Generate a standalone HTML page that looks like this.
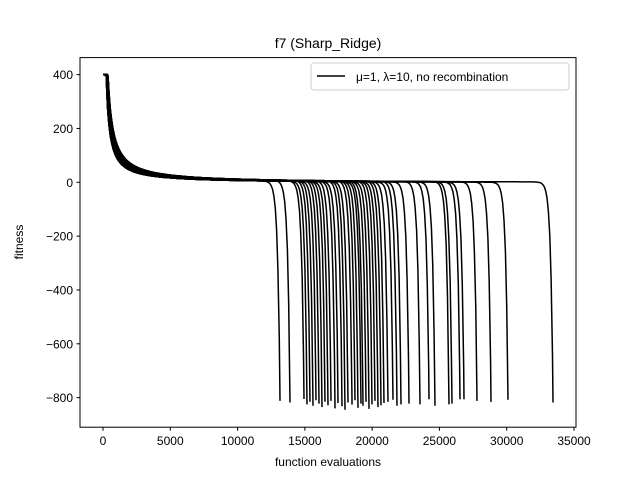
<!DOCTYPE html>
<html><head><meta charset="utf-8"><style>
body{margin:0;background:#fff}
svg{font-family:"Liberation Sans","DejaVu Sans",sans-serif}
</style></head><body>
<svg id="chart" width="640" height="480" viewBox="0 0 640 480" xmlns="http://www.w3.org/2000/svg">
<rect width="640" height="480" fill="#fff"/>
<text x="328" y="48" font-size="14" text-anchor="middle">f7 (Sharp_Ridge)</text>
<g id="lines"></g>
<g id="axes"></g>
<rect x="80" y="57.6" width="496" height="369.6" fill="none" stroke="#000" stroke-width="1"/>
<text x="328" y="466" font-size="12" text-anchor="middle">function evaluations</text>
<text x="23" y="242" font-size="12" text-anchor="middle" transform="rotate(-90 23 242)">fitness</text>
<g>
<rect x="311" y="63" width="258" height="27" rx="3" fill="#fff" stroke="#ccc"/>
<line x1="317" y1="76" x2="345" y2="76" stroke="#000" stroke-width="1.5"/>
<text x="356" y="81" font-size="12">μ=1, λ=10, no recombination</text>
</g>
</svg>
<script>
const xTicks=[0,5000,10000,15000,20000,25000,30000,35000];
const yTicks=[400,200,0,-200,-400,-600,-800];
const endEvals=[13155,13897,14937,15160,15383,15606,15828,16051,16274,16497,16720,16943,17240,17463,17760,17983,18206,18503,18726,18949,19172,19321,19544,19767,19990,20212,20435,20658,20881,21179,21550,21847,22145,22739,23557,24226,24671,25711,25934,26529,26826,27792,28833,30096,33440];
const finalVals=[-812,-818,-805,-825,-815,-830,-810,-822,-835,-815,-828,-812,-840,-820,-832,-845,-818,-826,-810,-838,-822,-830,-815,-842,-825,-812,-835,-828,-820,-816,-808,-830,-825,-822,-825,-806,-830,-825,-822,-806,-806,-812,-816,-808,-818];
const X=v=>103+v*(471/35000);
const Y=v=>182.3-v*(323/1200);
const NS="http://www.w3.org/2000/svg";
const ax=document.getElementById('axes');
xTicks.forEach(t=>{
  const l=document.createElementNS(NS,'line');
  l.setAttribute('x1',X(t));l.setAttribute('x2',X(t));l.setAttribute('y1',427.2);l.setAttribute('y2',430.7);l.setAttribute('stroke','#000');
  
  
  ax.appendChild(l);
  const s=document.createElementNS(NS,'text');
  s.setAttribute('x',X(t));s.setAttribute('y',445);s.setAttribute('font-size','12');s.setAttribute('text-anchor','middle');s.textContent=t;
  
  
  ax.appendChild(s);
});
yTicks.forEach(t=>{
  const l=document.createElementNS(NS,'line');
  l.setAttribute('x1',76.5);l.setAttribute('x2',80);l.setAttribute('y1',Y(t));l.setAttribute('y2',Y(t));l.setAttribute('stroke','#000');
  
  
  ax.appendChild(l);
  const s=document.createElementNS(NS,'text');
  s.setAttribute('x',73);s.setAttribute('y',Y(t)+4.5);s.setAttribute('font-size','12');s.setAttribute('text-anchor','end');s.textContent=t==0?'0':(t<0?'−'+(-t):t);
  
  
  ax.appendChild(s);
});
const g=document.getElementById('lines');
endEvals.forEach((te,i)=>{
  const fv=finalVals[i];
  const pts=[];
  const k=0.8+0.5*((i*7)%10)/10;
  const t0=150+((i*3)%5)*50;
  for(let t=0;t<=te;t+=(t<3000?40:100)){
    let v=t<t0?400:400*t0/t*k*(300/t0);
    v=Math.min(400,v)+(t>t0?-3:0);
    v+=fv*Math.exp(-(te-t)/170);
    pts.push(X(t).toFixed(1)+','+Y(v).toFixed(1));
  }
  pts.push(X(te).toFixed(1)+','+Y(fv).toFixed(1));
  const p=document.createElementNS(NS,'polyline');
  p.setAttribute('points',pts.join(' '));
  p.setAttribute('fill','none');p.setAttribute('stroke','#000');p.setAttribute('stroke-width','1.5');
  
  
  g.appendChild(p);
});
</script>
</body></html>
